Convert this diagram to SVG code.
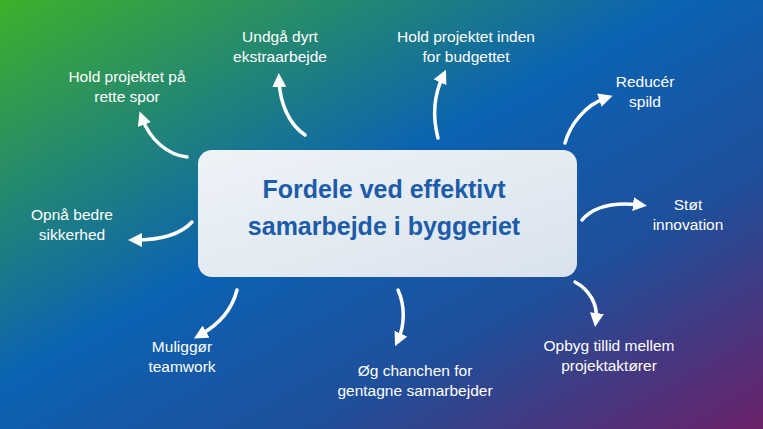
<svg xmlns="http://www.w3.org/2000/svg" width="763" height="429" viewBox="0 0 763 429">
<defs>
<linearGradient id="bg" x1="0" y1="0" x2="1" y2="1" gradientUnits="objectBoundingBox">
<stop offset="0" stop-color="#3fb02a"/>
<stop offset="0.45" stop-color="#0b62b3"/>
<stop offset="0.7" stop-color="#1f4f9a"/>
<stop offset="1" stop-color="#6b2168"/>
</linearGradient>
<linearGradient id="box" x1="0" y1="0" x2="1" y2="1">
<stop offset="0" stop-color="#eef3f7"/>
<stop offset="1" stop-color="#d9e3ee"/>
</linearGradient>
<marker id="ah" viewBox="0 0 10 10" refX="5" refY="5" markerWidth="4" markerHeight="4" orient="auto">
<path d="M0,0 L10,5 L0,10 z" fill="#fff"/>
</marker>
<style>
.lbl{font-family:"Liberation Sans",Arial,sans-serif;font-size:15.5px;fill:#fff;text-anchor:middle}
.arr{fill:none;stroke:#fff;stroke-width:3.5;stroke-linecap:round;marker-end:url(#ah)}
.ttl{font-family:"Liberation Sans",Arial,sans-serif;font-size:25px;font-weight:bold;fill:#1c5ca8;text-anchor:middle}
</style>
</defs>
<rect width="763" height="429" fill="url(#bg)"/>
<g id="center">
<rect x="198" y="150" width="379" height="127" rx="14" fill="url(#box)"/>
<text class="ttl" x="384" y="198">Fordele ved effektivt</text>
<text class="ttl" x="384" y="235">samarbejde i byggeriet</text>
</g>
<g id="connectors">
<path class="arr" d="M305,135 C290,125 280,105 279,80"/>
<path class="arr" d="M438,138 C432,115 434,95 443,76"/>
<path class="arr" d="M565,143 C570,125 585,105 606,98"/>
<path class="arr" d="M582,220 C595,205 615,202 640,205"/>
<path class="arr" d="M575,282 C590,290 598,305 596,320"/>
<path class="arr" d="M398,290 C405,305 405,325 398,340"/>
<path class="arr" d="M237,290 C232,310 218,325 200,335"/>
<path class="arr" d="M192,222 C180,235 160,240 135,240"/>
<path class="arr" d="M187,157 C168,155 150,140 142,118"/>
</g>
<g id="n1"><text class="lbl" x="280" y="42">Undgå dyrt</text><text class="lbl" x="280" y="62">ekstraarbejde</text></g>
<g id="n2"><text class="lbl" x="466" y="42">Hold projektet inden</text><text class="lbl" x="466" y="62">for budgettet</text></g>
<g id="n3"><text class="lbl" x="645" y="87">Reducér</text><text class="lbl" x="645" y="107">spild</text></g>
<g id="n4"><text class="lbl" x="688" y="210">Støt</text><text class="lbl" x="688" y="230">innovation</text></g>
<g id="n5"><text class="lbl" x="609" y="351">Opbyg tillid mellem</text><text class="lbl" x="609" y="371">projektaktører</text></g>
<g id="n6"><text class="lbl" x="415" y="376">Øg chanchen for</text><text class="lbl" x="415" y="396">gentagne samarbejder</text></g>
<g id="n7"><text class="lbl" x="182" y="352">Muliggør</text><text class="lbl" x="182" y="372">teamwork</text></g>
<g id="n8"><text class="lbl" x="72" y="220">Opnå bedre</text><text class="lbl" x="72" y="240">sikkerhed</text></g>
<g id="n9"><text class="lbl" x="127" y="82">Hold projektet på</text><text class="lbl" x="127" y="102">rette spor</text></g>
</svg>
